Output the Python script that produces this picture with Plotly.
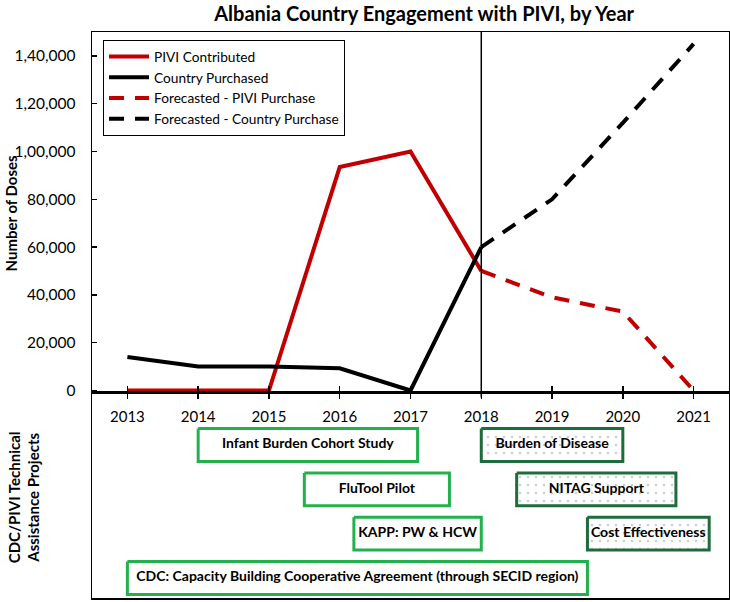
import plotly.graph_objects as go

# ---------------- data ----------------
hist_years = [2013, 2014, 2015, 2016, 2017, 2018]
pivi_contributed = [0, 0, 0, 93500, 100000, 50000]
country_purchased = [14000, 10000, 10000, 9300, 0, 60000]

forecast_years = [2018, 2019, 2020, 2021]
forecast_pivi = [50000, 39000, 33000, 0]
forecast_country = [60000, 80000, 112000, 145000]

x_ticks = [2013, 2014, 2015, 2016, 2017, 2018, 2019, 2020, 2021]
y_tickvals = [0, 20000, 40000, 60000, 80000, 100000, 120000, 140000]
y_ticktext = ["0", "20,000", "40,000", "60,000", "80,000", "1,00,000", "1,20,000", "1,40,000"]

projects = ["Infant Burden Cohort Study", "FluTool Pilot", "KAPP: PW & HCW",
            "CDC: Capacity Building Cooperative Agreement (through SECID region)",
            "Burden of Disease", "NITAG Support", "Cost Effectiveness"]
proj_start = [2014.0, 2015.5, 2016.2, 2013.0, 2018.0, 2018.5, 2019.5]
proj_end = [2017.1, 2017.55, 2018.0, 2019.5, 2020.0, 2020.75, 2021.22]
proj_row = [1, 2, 3, 4, 1, 2, 3]
proj_future = [False, False, False, False, True, True, True]

# ---------------- styling ----------------
FONT = "Lato"
RED = "#c00000"
LIGHT_GREEN = "#22b14c"
DARK_GREEN = "#1e6b3c"
split = 0.3622
half_h = 0.37

fig = go.Figure()

fig.add_trace(go.Scatter(x=hist_years, y=pivi_contributed, mode="lines",
                         name="PIVI Contributed", line=dict(color=RED, width=4),
                         legendgroup="a"))
fig.add_trace(go.Scatter(x=hist_years, y=country_purchased, mode="lines",
                         name="Country Purchased", line=dict(color="black", width=4),
                         legendgroup="b"))
fig.add_trace(go.Scatter(x=forecast_years, y=forecast_pivi, mode="lines",
                         name="Forecasted - PIVI Purchase",
                         line=dict(color=RED, width=4, dash="15px,11px"),
                         legendgroup="c"))
fig.add_trace(go.Scatter(x=forecast_years, y=forecast_country, mode="lines",
                         name="Forecasted - Country Purchase",
                         line=dict(color="black", width=4, dash="15px,11px"),
                         legendgroup="d"))

# project boxes
for name, s, e, r, fut in zip(projects, proj_start, proj_end, proj_row, proj_future):
    xs = [s, e, e, s, s]
    ys = [r - half_h, r - half_h, r + half_h, r + half_h, r - half_h]
    kw = dict(x=xs, y=ys, xaxis="x2", yaxis="y2", mode="lines", fill="toself",
              showlegend=False, hoverinfo="skip",
              line=dict(color=DARK_GREEN if fut else LIGHT_GREEN, width=3))
    if fut:
        kw["fillpattern"] = dict(shape=".", fgcolor="#9a9a9a", bgcolor="white",
                                 size=8, solidity=0.08)
    else:
        kw["fillcolor"] = "white"
    fig.add_trace(go.Scatter(**kw))

fig.add_trace(go.Scatter(
    x=[(s + e) / 2 for s, e in zip(proj_start, proj_end)], y=proj_row,
    xaxis="x2", yaxis="y2", mode="text",
    text=["<b>" + p.replace("&", "&amp;") + "</b>" for p in projects],
    textfont=dict(family=FONT, size=14, color="black"),
    showlegend=False, hoverinfo="skip"))

fig.update_layout(
    width=730, height=602,
    margin=dict(l=92, r=1, t=32, b=4),
    paper_bgcolor="white", plot_bgcolor="white",
    font=dict(family=FONT, color="black"),
    title=dict(text="<b>Albania Country Engagement with PIVI, by Year</b>",
               x=0.581, xanchor="center", y=1 - 14 / 602, yanchor="middle",
               font=dict(family=FONT, size=20, color="black")),
    showlegend=True,
    legend=dict(x=0.0173, y=0.9858, xanchor="left", yanchor="top",
                bordercolor="black", borderwidth=1, bgcolor="white",
                font=dict(family=FONT, size=13.7, color="black"),
                itemwidth=40,
                tracegroupgap=2, traceorder="normal"),
    xaxis=dict(range=[2012.5, 2021.5], tickvals=x_ticks, anchor="y",
               showline=True, linecolor="black", linewidth=1.5, mirror=True,
               ticks="outside", ticklen=5, tickcolor="black", tickwidth=1.5,
               ticklabelstandoff=5, layer="below traces",
               showgrid=False, zeroline=False, automargin=False,
               tickfont=dict(family=FONT, size=15, color="black")),
    yaxis=dict(domain=[split, 1], range=[-1050, 150000], tickvals=y_tickvals,
               ticktext=y_ticktext, anchor="x",
               showline=True, linecolor="black", linewidth=1.5, mirror=True,
               ticks="inside", ticklen=5, tickcolor="black", tickwidth=1.5,
               ticklabelstandoff=12, layer="below traces",
               showgrid=False, zeroline=False, automargin=False,
               tickfont=dict(family=FONT, size=15.5, color="black")),
    xaxis2=dict(range=[2012.5, 2021.5], tickvals=x_ticks, anchor="y2", side="top",
                matches="x", showline=True, linecolor="black", linewidth=1.5,
                mirror=True, ticks="outside", ticklen=5, tickcolor="black",
                tickwidth=1.5, showticklabels=False, showgrid=False, zeroline=False,
                automargin=False, layer="below traces"),
    yaxis2=dict(domain=[0, split], range=[4.451, -0.173], anchor="x2",
                showline=True, linecolor="black", linewidth=1.5, mirror=True,
                ticks="", showticklabels=False, showgrid=False, zeroline=False,
                automargin=False),
    shapes=[dict(type="line", xref="x", yref="paper", x0=2018, x1=2018,
                 y0=split - 0.008, y1=1, line=dict(color="black", width=1.5),
                 layer="above")],
    annotations=[
        dict(text="<b>Number of Doses</b>", xref="paper", yref="paper",
             x=-0.1256, y=(1 + split) / 2, xanchor="center", yanchor="middle",
             textangle=-90, showarrow=False,
             font=dict(family=FONT, size=15, color="black")),
        dict(text="<b>CDC/PIVI Technical<br>Assistance Projects</b>", xref="paper",
             yref="paper", x=-0.1068, y=0.178, xanchor="center", yanchor="middle",
             textangle=-90, showarrow=False,
             font=dict(family=FONT, size=15, color="black")),
    ],
    hovermode=False,
)

fig.write_html("out.html",
               config={"displayModeBar": False, "staticPlot": True},
               post_script="document.body.style.margin='0';document.body.style.padding='0';"
                           "document.documentElement.style.overflow='hidden';")
